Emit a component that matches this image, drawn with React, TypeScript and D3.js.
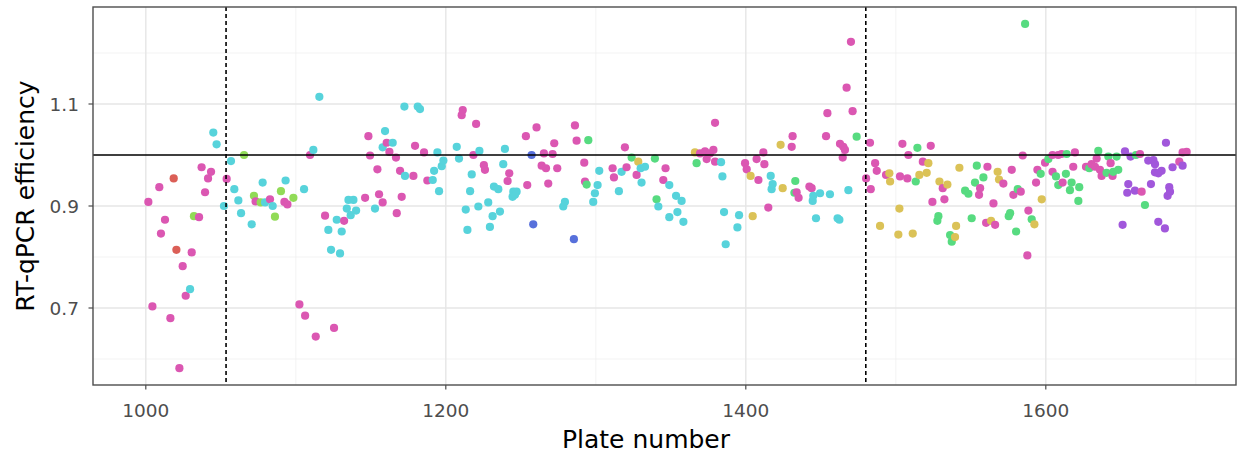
import React from "react";
import * as d3 from "d3";

type Pt = [number, number];

const redPoints: Pt[] = [[1018.6,0.954],[1020.4,0.814]];
const limePoints: Pt[] = [[1065.5,1.0],[1072.1,0.920],[1076.6,0.907],[1090.1,0.929],[1086.1,0.879],[1032.1,0.880],[1098.4,0.916]];
const cyanPoints: Pt[] = [
  [1045,1.044],[1047.2,1.021],[1056.8,0.988],[1059,0.933],[1061.7,0.911],[1052.1,0.900],[1077.9,0.946],[1093.2,0.950],[1063.5,0.886],[1070.6,0.864],[1029.5,0.737],[1079.5,0.907],[1084.6,0.900],
  [1105.5,0.933],[1111.7,1.010],[1115.7,1.114],[1127.3,0.873],[1121.7,0.853],[1130.6,0.850],[1123.5,0.814],[1129.5,0.807],[1135.1,0.912],[1138.4,0.912],[1134,0.895],[1140.2,0.891],[1136.6,0.882],[1152.8,0.895],[1159.5,1.047],[1157.9,1.015],[1164.6,1.024],[1172.8,0.959],[1172.4,1.095],[1181.3,1.095],[1182.8,1.090],[1194.4,1.005],[1198.4,0.989],[1197.3,0.978],[1192.2,0.969],[1191.3,0.951],[1195.5,0.929],[1207.3,1.016],[1208.8,0.993],[1217.3,0.962],[1216.2,0.929],[1213.3,0.893],[1214.4,0.853],[1221.7,0.899],[1222.4,1.008],
  [1228.3,0.907],[1229.4,0.859],[1231.2,0.880],[1236.1,0.889],[1232.1,0.938],[1235,0.933],[1238.3,0.982],[1239.4,1.012],[1245,0.928],[1247.2,0.928],[1244.5,0.918],[1246.1,0.922],[1279.4,0.908],[1278.3,0.899],[1301.2,0.941],[1299.4,0.925],[1298.3,0.908],[1302.3,0.969],[1315.4,0.929],[1317.2,0.967],[1329.9,0.974],[1332.8,0.977],[1330.5,0.946],[1341.7,0.899],[1349,0.941],[1349,0.878],
  [1353.5,0.920],[1357.2,0.910],[1354.4,0.888],[1358.4,0.869],[1383.5,0.986],[1384.4,0.958],[1385.5,0.888],[1386.6,0.825],[1395.5,0.882],[1394.4,0.858],[1416.6,0.959],[1417.9,0.943],[1417.2,0.933],[1445,0.920],[1444.6,0.910],[1449.5,0.925],[1456.1,0.923],[1446.8,0.876],[1461.2,0.876],[1462.4,0.873],[1468.4,0.931]
];
const pinkPoints: Pt[] = [
  [1037.2,0.976],[1043.5,0.967],[1041.5,0.954],[1009,0.937],[1053.9,0.953],[1039.5,0.927],[1001.7,0.908],[1073.2,0.909],[1082.8,0.913],[1092.4,0.908],[1094.4,0.903],[1035.5,0.878],[1012.8,0.873],[1010.1,0.846],[1030.6,0.809],[1024.6,0.782],[1026.6,0.724],[1004.4,0.703],[1016.4,0.680],[1022.4,0.582],
  [1109.5,1.0],[1119.5,0.881],[1132.2,0.871],[1146.2,0.916],[1155.5,0.923],[1157.9,0.907],[1167.3,0.886],[1170.6,0.918],[1148.4,1.037],[1149.5,0.999],[1154.4,0.972],[1160.6,1.024],[1162.4,1.006],[1166.8,0.995],[1169.5,0.969],[1178.4,0.959],[1179.5,1.018],[1185.5,1.005],[1187.7,0.950],[1211.3,1.088],[1210.6,1.078],[1220.2,1.061],[1218.4,1.0],
  [1102.4,0.707],[1106.2,0.685],[1113.3,0.644],[1125.5,0.661],
  [1225.4,0.980],[1226.1,0.971],[1242.3,0.964],[1241.2,0.949],[1254.3,0.941],[1253.4,1.037],[1260.5,1.054],[1263.9,0.979],[1266.8,0.974],[1265.4,1.003],[1271.2,1.002],[1272.3,1.023],[1274.3,0.974],[1268.3,0.944],[1286.1,1.058],[1287.2,1.028],[1292.3,0.985],[1292.8,0.948],[1311.2,0.974],[1312.1,0.956],[1319.4,1.015],[1320.5,0.976],[1327.2,0.961],[1346.5,0.974],[1345,0.951],
  [1369.5,1.003],[1372.8,1.007],[1376.1,1.003],[1378.4,1.010],[1373.9,0.992],[1379.5,0.987],[1379.5,1.063],[1399.5,0.984],[1400.6,0.972],[1407.2,0.992],[1411.7,1.005],[1412.4,0.982],[1408.4,0.951],[1431.2,1.037],[1430.6,1.016],[1415,0.897],[1433.9,0.927],[1435.2,0.916],[1442.4,0.938],[1443.9,0.935],[1454.4,1.082],[1453.5,1.037],[1462.8,1.022],[1465,1.016],[1466.1,1.010],[1464.6,0.995],[1467.2,1.132],[1470.1,1.222],[1471.2,1.086],
  [1482.8,1.024],[1486.2,0.984],[1487.3,0.969],[1480.2,0.954],[1483.3,0.933],[1493.5,0.961],[1504.4,1.022],[1508.4,1.0],[1523.3,1.018],[1502.8,0.958],[1507.7,0.954],[1518,0.987],[1524.4,0.908],[1531.3,0.935],[1532.4,0.913],[1556.2,0.935],[1555.5,0.922],[1561.1,0.977],[1565.1,0.905],[1560.2,0.867],[1566.2,0.863],[1571.7,0.944],[1577.3,0.971],[1578.4,0.922],[1583.3,0.928],[1584.6,0.999],[1588.4,0.891],[1587.7,0.803],[1593.5,0.946],[1594.4,0.971],[1599.5,0.985],
  [1604.5,1.0],[1608.3,1.0],[1610.5,1.002],[1604.5,0.967],[1611.2,0.946],[1618.3,0.977],[1619.4,1.005],[1626.8,0.977],[1630.5,0.982],[1633.9,0.993],[1632.8,0.977],[1636.1,0.971],[1637.2,0.959],[1643.2,0.984],[1644.5,0.959],[1662.8,1.002],[1663.9,0.928],[1689,0.987],[1691.2,1.005],[1693.9,1.006]
];
const goldPoints: Pt[] = [[1328.3,0.987],[1366.1,1.005],[1403.2,0.959],[1404.6,0.880],[1424.6,0.935],[1423.2,1.020],[1489.5,0.861],[1495.7,0.964],[1496.2,0.948],[1502.4,0.895],[1501.7,0.844],[1511.3,0.846],[1521.7,0.984],[1520.6,0.965],[1515.7,0.961],[1529.1,0.948],[1534.4,0.942],[1540.2,0.861],[1539.5,0.839],[1542.4,0.975],[1563.5,0.871],[1567.9,0.967],[1568.8,0.952],[1592.4,0.864],[1597.3,0.913]];
const greenPoints: Pt[] = [[1295,1.029],[1293.9,0.942],[1323.9,0.995],[1339.4,0.993],[1340.5,0.913],[1367.2,0.984],[1433,0.949],[1432.4,0.926],[1473.9,1.036],[1514.4,1.014],[1513.3,0.948],[1528.4,0.880],[1527.7,0.871],[1536.2,0.843],[1537.3,0.830],[1546.2,0.930],[1548.4,0.924],[1550.6,0.876],[1554,0.979],[1552.8,0.946],[1558.4,0.956],[1576.2,0.886],[1575.3,0.880],[1580.2,0.850],[1581.3,0.933],[1586.2,1.257],[1590.6,0.874],[1596.6,0.963],[1601.7,0.992],[1606.8,0.958],[1608.3,0.941],[1613.4,0.963],[1613.9,1.002],[1617.2,0.946],[1616.1,0.931],[1622.3,0.937],[1621.7,0.910],[1629,0.974],[1635,1.008],[1641.7,0.997],[1647.2,0.997],[1648.3,0.971],[1640.5,0.965],[1645,0.967],[1660.1,1.0],[1666.1,0.902]];
const bluePoints: Pt[] = [[1257.2,1.0],[1258.3,0.864],[1285.4,0.835]];
const purplePoints: Pt[] = [[1652.8,1.007],[1656.5,0.997],[1655,0.943],[1654.3,0.926],[1659.4,0.930],[1651.2,0.863],[1668.3,0.989],[1671.7,0.990],[1672.8,0.982],[1672.8,0.966],[1675,0.964],[1677.2,0.969],[1670.1,0.943],[1675,0.869],[1679.4,0.856],[1680.1,1.024],[1684.5,0.976],[1691.2,0.979],[1682.3,0.937],[1682.8,0.928],[1681.2,0.920]];

const xMajorTicks = [1000, 1200, 1400, 1600];
const xMinorTicks = [1100, 1300, 1500, 1700];
const yMajorTicks = [0.7, 0.9, 1.1];
const yMinorTicks = [0.6, 0.8, 1.0, 1.2];
const yTickLabels = ["0.7", "0.9", "1.1"];
const referenceLine = 1.0;
const cutoffPlates = [1053.5, 1480];
const xTitle = "Plate number";
const yTitle = "RT-qPCR efficiency";

const seriesList: { pts: Pt[]; color: string }[] = [
  { pts: redPoints, color: "#db5f57" },
  { pts: goldPoints, color: "#dbc257" },
  { pts: limePoints, color: "#91db57" },
  { pts: greenPoints, color: "#57db80" },
  { pts: cyanPoints, color: "#57d3db" },
  { pts: bluePoints, color: "#5770db" },
  { pts: purplePoints, color: "#a157db" },
  { pts: pinkPoints, color: "#db57b2" },
];

export default function App() {
  const W = 1238, H = 455;
  const L = 93, R = 1236, T = 7, B = 385;
  const x = d3.scaleLinear().domain([1000, 1600]).range([145.8, 1045.8]);
  const y = d3.scaleLinear().domain([0.7, 1.1]).range([308, 104]);
  const all = seriesList
    .flatMap((s) => s.pts.map((p) => ({ p: p[0], v: p[1], c: s.color })))
    .sort((a, b) => a.p - b.p);
  const font = "'DejaVu Sans', sans-serif";
  return (
    <svg width={W} height={H} style={{ position: "absolute", left: 0, top: 0, background: "#fff" }}>
      <rect x={L} y={T} width={R - L} height={B - T} fill="#fff" />
      {yMinorTicks.map((t) => (
        <line key={"ym" + t} x1={L} x2={R} y1={y(t)} y2={y(t)} stroke="#f0f0f0" strokeWidth={0.8} />
      ))}
      {xMinorTicks.map((t) => (
        <line key={"xm" + t} x1={x(t)} x2={x(t)} y1={T} y2={B} stroke="#f0f0f0" strokeWidth={0.8} />
      ))}
      {yMajorTicks.map((t) => (
        <line key={"yM" + t} x1={L} x2={R} y1={y(t)} y2={y(t)} stroke="#e6e6e6" strokeWidth={1.4} />
      ))}
      {xMajorTicks.map((t) => (
        <line key={"xM" + t} x1={x(t)} x2={x(t)} y1={T} y2={B} stroke="#e6e6e6" strokeWidth={1.4} />
      ))}
      {all.map((d, i) => (
        <circle key={i} cx={x(d.p)} cy={y(d.v)} r={4.1} fill={d.c} />
      ))}
      <line x1={L} x2={R} y1={y(referenceLine)} y2={y(referenceLine)} stroke="#000" strokeWidth={1.6} />
      {cutoffPlates.map((c) => (
        <line key={"c" + c} x1={x(c)} x2={x(c)} y1={T} y2={B} stroke="#000" strokeWidth={1.6} strokeDasharray="4,3" />
      ))}
      <rect x={L} y={T} width={R - L} height={B - T} fill="none" stroke="#4d4d4d" strokeWidth={1.4} />
      {yMajorTicks.map((t, i) => (
        <g key={"yt" + t}>
          <line x1={L - 4.5} x2={L} y1={y(t)} y2={y(t)} stroke="#4d4d4d" strokeWidth={1.2} />
          <text x={L - 14} y={y(t)} dy="0.36em" textAnchor="end" fontFamily={font} fontSize={18.5} fill="#4d4d4d">
            {yTickLabels[i]}
          </text>
        </g>
      ))}
      {xMajorTicks.map((t) => (
        <g key={"xt" + t}>
          <line x1={x(t)} x2={x(t)} y1={B} y2={B + 4.5} stroke="#4d4d4d" strokeWidth={1.2} />
          <text x={x(t)} y={417} textAnchor="middle" fontFamily={font} fontSize={18.5} fill="#4d4d4d">
            {String(t)}
          </text>
        </g>
      ))}
      <text x={646} y={448} textAnchor="middle" fontFamily={font} fontSize={25} fill="#000">
        {xTitle}
      </text>
      <text transform={`translate(34,196) rotate(-90)`} textAnchor="middle" fontFamily={font} fontSize={25} fill="#000">
        {yTitle}
      </text>
    </svg>
  );
}
